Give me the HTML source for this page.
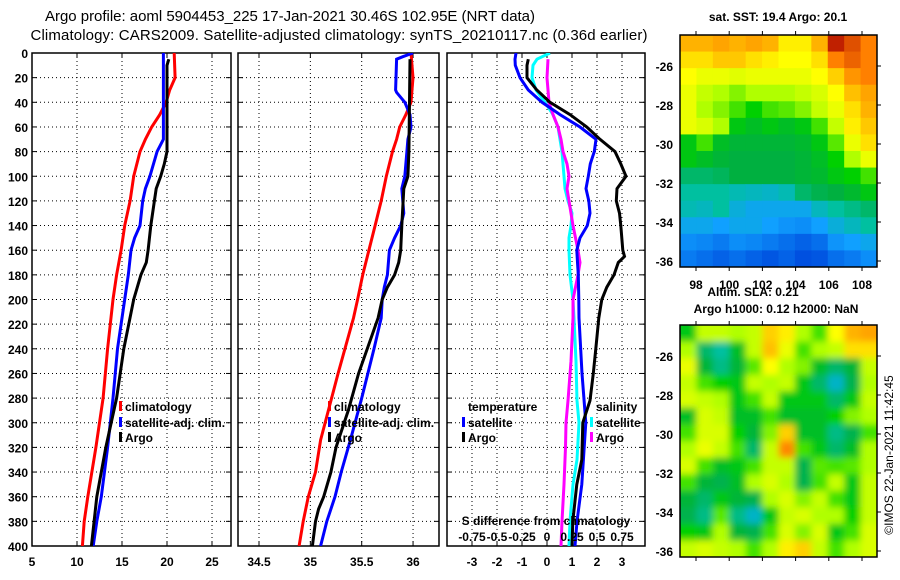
<!DOCTYPE html>
<html><head><meta charset="utf-8"><style>
html,body{margin:0;padding:0;background:#fff;}
svg{display:block;font-family:"Liberation Sans",Arial,sans-serif;}
.t{font-weight:bold;font-size:12px;}
</style></head><body>
<svg id="chart" width="900" height="580" viewBox="0 0 900 580" xmlns="http://www.w3.org/2000/svg">
<text x="290" y="21" font-size="15" text-anchor="middle" textLength="490">Argo profile: aoml 5904453_225 17-Jan-2021 30.46S 102.95E (NRT data)</text>
<text x="339" y="40" font-size="15" text-anchor="middle" textLength="617">Climatology: CARS2009. Satellite-adjusted climatology: synTS_20210117.nc (0.36d earlier)</text>
<g id="panels"></g>
<g id="maps"></g>
<text class="t" x="778" y="21" text-anchor="middle">sat. SST: 19.4 Argo: 20.1</text>
<text class="t" x="753" y="296" text-anchor="middle">Altim. SLA: 0.21</text>
<text class="t" x="776" y="313" text-anchor="middle">Argo h1000: 0.12 h2000: NaN</text>
<text x="893" y="455" font-size="12" text-anchor="middle" transform="rotate(-90 893 455)">©IMOS 22-Jan-2021 11:42:45</text>
</svg>
<script>
// ---- Panel 1: temperature ----
const tClimDepth=[0,20,30,40,50,60,70,80,100,120,140,160,180,200,240,280,320,360,380,400];
const tClimVal=[20.8,20.9,20.3,19.9,19.2,18.3,17.6,17.0,16.3,15.9,15.3,14.9,14.4,14.0,13.4,12.9,12.1,11.2,10.8,10.6];
const tSatDepth=[0,70,80,100,110,120,140,150,160,180,200,240,280,320,360,380,400];
const tSatVal=[19.6,19.6,18.9,18.1,17.6,17.3,17.0,16.4,16.0,15.7,15.3,14.5,14.0,13.4,12.7,12.2,11.8];
const tArgoDepth=[5,10,80,90,100,110,120,140,160,170,180,200,240,280,320,360,380,400];
const tArgoVal=[20.2,20.0,20.0,19.7,19.3,18.8,18.6,18.2,17.9,17.7,17.1,16.3,15.2,14.4,13.2,12.2,11.9,11.6];
// ---- Panel 2: salinity ----
const sClimDepth=[0,20,40,50,60,70,80,100,120,140,160,180,200,215,260,314,340,360,380,400];
const sClimVal=[35.98,36.0,35.98,35.93,35.87,35.84,35.8,35.74,35.69,35.63,35.57,35.51,35.46,35.42,35.27,35.1,35.05,34.98,34.93,34.89];
const sSatDepth=[0,3,5,30,32,40,50,60,70,80,100,110,130,140,150,160,180,190,200,215,240,280,314,340,360,380,400];
const sSatVal=[36.0,35.9,35.84,35.83,35.84,35.92,35.97,35.98,35.95,35.94,35.92,35.89,35.91,35.88,35.82,35.77,35.75,35.72,35.7,35.69,35.62,35.5,35.39,35.3,35.24,35.16,35.1];
const sArgoDepth=[5,80,100,105,110,140,160,170,180,190,200,215,260,290,320,340,360,370,380,400];
const sArgoVal=[35.97,35.96,35.95,35.93,35.91,35.89,35.88,35.86,35.82,35.75,35.7,35.66,35.47,35.37,35.25,35.2,35.13,35.08,35.05,35.02];
// ---- Panel 3: differences from climatology ----
const dTSatDepth=[0,5,10,20,30,40,50,60,70,80,90,100,110,120,130,140,150,160,170,180,200,215,260,300,350,380,400];
const dTSatVal=[-1.24,-1.28,-1.27,-1.08,-0.75,-0.2,0.52,1.32,1.96,1.89,1.73,1.65,1.56,1.67,1.72,1.61,1.32,1.19,1.22,1.25,1.27,1.28,1.4,1.55,1.39,1.2,1.12];
const dTArgoDepth=[5,10,20,30,40,50,60,70,80,90,100,110,120,130,140,160,165,170,180,190,200,215,240,260,282,300,330,350,380,400];
const dTArgoVal=[-0.75,-0.8,-0.8,-0.41,0.12,0.92,1.59,2.12,2.72,2.95,3.16,2.8,2.77,2.9,2.95,3.03,3.1,2.85,2.68,2.39,2.19,2.07,1.95,1.85,1.72,1.43,1.39,1.19,1.03,1.0];
const dSSatDepth=[0,5,10,20,30,40,50,60,80,100,110,120,130,140,150,160,180,200,215,250,282,300,330,350,380,400];
const dSSatVal=[0.03,-0.1,-0.14,-0.15,-0.11,-0.02,0.06,0.11,0.15,0.17,0.18,0.21,0.25,0.24,0.22,0.22,0.23,0.26,0.27,0.29,0.3,0.32,0.3,0.26,0.23,0.22];
const dSArgoDepth=[5,20,40,50,60,70,80,90,100,110,120,140,160,170,180,200,215,250,282,300,320,350,380,400];
const dSArgoVal=[0.01,0,0.02,0.06,0.11,0.14,0.16,0.2,0.22,0.2,0.22,0.26,0.31,0.33,0.31,0.26,0.26,0.24,0.21,0.19,0.185,0.17,0.15,0.14];
// ---- tick labels ----
const depthTicks=[0,20,40,60,80,100,120,140,160,180,200,220,240,260,280,300,320,340,360,380,400];
const tTicks=[5,10,15,20,25];
const sTicks=[34.5,35,35.5,36];
const dTicks=[-3,-2,-1,0,1,2,3];
const sDiffTicks=["-0.75","-0.5","-0.25","0","0.25","0.5","0.75"];
const sDiffTickVals=[-0.75,-0.5,-0.25,0,0.25,0.5,0.75];
// ---- maps ----
const mapLonTicks=[98,100,102,104,106,108];
const mapLatTicks=[-26,-28,-30,-32,-34,-36];
const sstGrid=[
[.78,.78,.8,.78,.8,.78,.7,.7,.78,.95,.9,.85],
[.72,.72,.75,.75,.72,.7,.68,.68,.72,.85,.88,.85],
[.68,.66,.66,.65,.66,.66,.66,.66,.68,.74,.82,.85],
[.66,.62,.6,.58,.6,.6,.6,.62,.64,.68,.76,.8],
[.66,.6,.58,.55,.52,.55,.56,.58,.62,.66,.72,.78],
[.66,.64,.6,.5,.48,.5,.48,.5,.55,.62,.7,.75],
[.5,.55,.48,.46,.46,.46,.46,.47,.5,.56,.66,.72],
[.5,.48,.46,.45,.45,.45,.45,.46,.48,.52,.6,.66],
[.42,.42,.43,.45,.45,.45,.45,.46,.47,.5,.52,.55],
[.38,.38,.38,.36,.35,.34,.36,.42,.44,.45,.47,.5],
[.36,.35,.38,.32,.3,.3,.3,.3,.35,.38,.4,.42],
[.3,.3,.28,.3,.3,.28,.26,.25,.28,.32,.35,.38],
[.25,.24,.22,.25,.24,.22,.2,.18,.2,.26,.28,.3],
[.22,.2,.18,.2,.18,.16,.18,.15,.16,.2,.22,.25]];
const slaGrid=[
[.5,.62,.62,.6,.62,.74,.7,.6,.55,.68,.78,.8],
[.6,.42,.38,.48,.62,.76,.66,.55,.6,.62,.72,.72],
[.66,.46,.4,.46,.56,.68,.6,.58,.48,.42,.46,.62],
[.62,.55,.52,.5,.62,.6,.62,.5,.42,.34,.44,.6],
[.64,.62,.6,.5,.55,.62,.5,.5,.5,.42,.5,.62],
[.48,.64,.62,.48,.48,.55,.48,.48,.48,.52,.58,.6],
[.55,.64,.64,.52,.46,.58,.74,.48,.48,.4,.44,.55],
[.6,.66,.62,.55,.42,.62,.84,.55,.5,.42,.48,.6],
[.64,.55,.48,.5,.55,.62,.62,.44,.56,.55,.56,.6],
[.55,.46,.44,.48,.6,.64,.6,.44,.55,.62,.5,.62],
[.46,.42,.5,.46,.44,.6,.64,.58,.62,.55,.5,.62],
[.44,.4,.56,.4,.34,.5,.62,.64,.6,.6,.52,.62],
[.52,.5,.6,.46,.44,.55,.64,.58,.64,.5,.55,.64],
[.62,.64,.62,.6,.55,.6,.7,.74,.62,.55,.6,.64]];

const NS='http://www.w3.org/2000/svg';
function el(tag,attrs,parent){const e=document.createElementNS(NS,tag);for(const k in attrs)e.setAttribute(k,attrs[k]);if(parent)parent.appendChild(e);return e;}
const Y0=53,Y1=546;
const yScale=d=>Y0+d*(Y1-Y0)/400;
const panelsG=document.getElementById('panels');

function panel(name,x0,x1,xmin,xmax,ticks,showDepth){
  const g=el('g',{},panelsG);
  
  
  const xs=v=>x0+(v-xmin)*(x1-x0)/(xmax-xmin);
  const cid='clip-'+name;
  const cp=el('clipPath',{id:cid},g);el('rect',{x:x0,y:Y0,width:x1-x0,height:Y1-Y0},cp);
  depthTicks.forEach(d=>{
    const y=yScale(d);
    if(d>0&&d<400){const gl=el('line',{x1:x0,x2:x1,y1:y,y2:y,stroke:'#000','stroke-width':1,'stroke-dasharray':'1,3'},g);
      }
    el('line',{x1:x0,x2:x0+5,y1:y,y2:y,stroke:'#000'},g);
    el('line',{x1:x1-5,x2:x1,y1:y,y2:y,stroke:'#000'},g);
    if(showDepth){const t=el('text',{x:28,y:y+5,'text-anchor':'end',class:'t'},g);t.textContent=d;
      }
  });
  ticks.forEach(v=>{
    const x=xs(v);
    if(x>x0+1&&x<x1-1){const gl=el('line',{x1:x,x2:x,y1:Y0,y2:Y1,stroke:'#000','stroke-dasharray':'1,3'},g);
      }
    el('line',{x1:x,x2:x,y1:Y0,y2:Y0+5,stroke:'#000'},g);
    el('line',{x1:x,x2:x,y1:Y1-5,y2:Y1,stroke:'#000'},g);
    const t=el('text',{x:x,y:566,'text-anchor':'middle',class:'t'},g);t.textContent=v;
    
  });
  const fr=el('rect',{x:x0,y:Y0,width:x1-x0,height:Y1-Y0,fill:'none',stroke:'#000','stroke-width':1.5},g);
  
  return {g,xs,cid};
}
function series(p,name,depths,vals,color,scale){
  const pts=depths.map((d,i)=>p.xs(vals[i]*(scale||1)).toFixed(1)+','+yScale(d).toFixed(1)).join(' ');
  const pl=el('polyline',{points:pts,fill:'none',stroke:color,'stroke-width':3,'clip-path':'url(#'+p.cid+')'},p.g);
  
  
}
function legend(p,name,x,y,color,label){
  const g=el('g',{},p.g);
  
  
  if(color)el('rect',{x:x,y:y-10,width:3,height:10,fill:color},g);
  const t=el('text',{x:x+(color?6:0),y:y,class:'t'},g);t.textContent=label;
}

const p1=panel('temperature-panel',32,231,5,5+199/9,tTicks,true);
series(p1,'temperature-climatology-line',tClimDepth,tClimVal,'#f00');
series(p1,'temperature-satellite-line',tSatDepth,tSatVal,'#00f');
series(p1,'temperature-argo-line',tArgoDepth,tArgoVal,'#000');
legend(p1,'legend-climatology',119,411,'#f00','climatology');
legend(p1,'legend-satellite-adj',119,427,'#00f','satellite-adj. clim.');
legend(p1,'legend-argo',119,442,'#000','Argo');

const sPx=102.7;
const p2=panel('salinity-panel',238,439,34.5-21/sPx,34.5+180/sPx,sTicks,false);
series(p2,'salinity-climatology-line',sClimDepth,sClimVal,'#f00');
series(p2,'salinity-satellite-line',sSatDepth,sSatVal,'#00f');
series(p2,'salinity-argo-line',sArgoDepth,sArgoVal,'#000');
legend(p2,'legend-climatology-2',328,411,'#f00','climatology');
legend(p2,'legend-satellite-adj-2',328,427,'#00f','satellite-adj. clim.');
legend(p2,'legend-argo-2',328,442,'#000','Argo');

const p3=panel('difference-panel',447,645,-4,-4+198/25,dTicks,false);
series(p3,'salinity-satellite-diff-line',dSSatDepth,dSSatVal,'#0ff',4);
series(p3,'salinity-argo-diff-line',dSArgoDepth,dSArgoVal,'#f0f',4);
series(p3,'temperature-satellite-diff-line',dTSatDepth,dTSatVal,'#00f');
series(p3,'temperature-argo-diff-line',dTArgoDepth,dTArgoVal,'#000');
legend(p3,'legend-temperature-header',468,411,null,'temperature');
legend(p3,'legend-temp-satellite',462,427,'#00f','satellite');
legend(p3,'legend-temp-argo',462,442,'#000','Argo');
legend(p3,'legend-salinity-header',596,411,null,'salinity');
legend(p3,'legend-sal-satellite',590,427,'#0ff','satellite');
legend(p3,'legend-sal-argo',590,442,'#f0f','Argo');
{
  const t=el('text',{x:546,y:525,'text-anchor':'middle',class:'t'},p3.g);t.textContent='S difference from climatology';
  
  sDiffTickVals.forEach((v,i)=>{
    const l=el('text',{x:p3.xs(v*4),y:541,'text-anchor':'middle',class:'t'},p3.g);l.textContent=sDiffTicks[i];
    
  });
}

// ---- colormap ----
const cmStops=[[0,[0,0,160]],[.15,[0,80,224]],[.28,[16,160,255]],[.38,[0,192,160]],[.45,[0,176,64]],[.52,[0,208,0]],[.6,[176,255,0]],[.68,[255,255,0]],[.76,[255,192,0]],[.85,[255,128,0]],[.95,[192,32,0]],[1,[160,0,0]]];
function cmap(v){
  for(let i=1;i<cmStops.length;i++){if(v<=cmStops[i][0]){const a=cmStops[i-1],b=cmStops[i];const f=(v-a[0])/(b[0]-a[0]);
    const c=a[1].map((x,k)=>Math.round(x+(b[1][k]-x)*f));return 'rgb('+c.join(',')+')';}}
  return 'rgb(160,0,0)';
}
const mapsG=document.getElementById('maps');
const MX0=680,MX1=877;
const lonX=lon=>696+(lon-98)*16.6;
function drawMap(name,grid,y0,y1,latY0,blur){
  const g=el('g',{},mapsG);
  
  
  const cid='clip-'+name;
  const cp=el('clipPath',{id:cid},g);el('rect',{x:MX0,y:y0,width:MX1-MX0,height:y1-y0},cp);
  const outer=el('g',{'clip-path':'url(#'+cid+')'},g);
  let inner=outer;
  if(blur){const f=el('filter',{id:'blur-'+name,x:'-20%',y:'-20%',width:'140%',height:'140%'},g);el('feGaussianBlur',{stdDeviation:3.5},f);
    inner=el('g',{filter:'url(#blur-'+name+')'},outer);}
  const rows=grid.length,cols=grid[0].length;
  const cw=(MX1-MX0)/cols,ch=(y1-y0)/rows;
  grid.forEach((row,r)=>row.forEach((v,c)=>{
    let x=MX0+c*cw,y=y0+r*ch,w=cw+0.6,h=ch+0.6;
    if(c===0){x-=20;w+=20;} if(c===cols-1)w+=20;
    if(r===0){y-=20;h+=20;} if(r===rows-1)h+=20;
    const cell=el('rect',{x:x,y:y,width:w,height:h,fill:cmap(v)},inner);
    
    
  }));
  el('rect',{x:MX0,y:y0,width:MX1-MX0,height:y1-y0,fill:'none',stroke:'#000','stroke-width':1.5},g);
  mapLonTicks.forEach(lon=>{const x=lonX(lon);
    el('line',{x1:x,x2:x,y1:y0-4,y2:y0,stroke:'#000'},g);el('line',{x1:x,x2:x,y1:y1,y2:y1+4,stroke:'#000'},g);});
  mapLatTicks.forEach(lat=>{const y=latY0+(-26-lat)*19.5;
    el('line',{x1:MX1,x2:MX1+4,y1:y,y2:y,stroke:'#000'},g);
    const t=el('text',{x:673,y:y+5,'text-anchor':'end',class:'t'},g);t.textContent=lat;
    });
  return g;
}
const m1=drawMap('sst-map',sstGrid,35,267,66,false);
mapLonTicks.forEach(lon=>{const t=el('text',{x:lonX(lon),y:289,'text-anchor':'middle',class:'t'},m1);t.textContent=lon;
  });
drawMap('sla-map',slaGrid,325,557,356,true);
</script>
</body></html>
